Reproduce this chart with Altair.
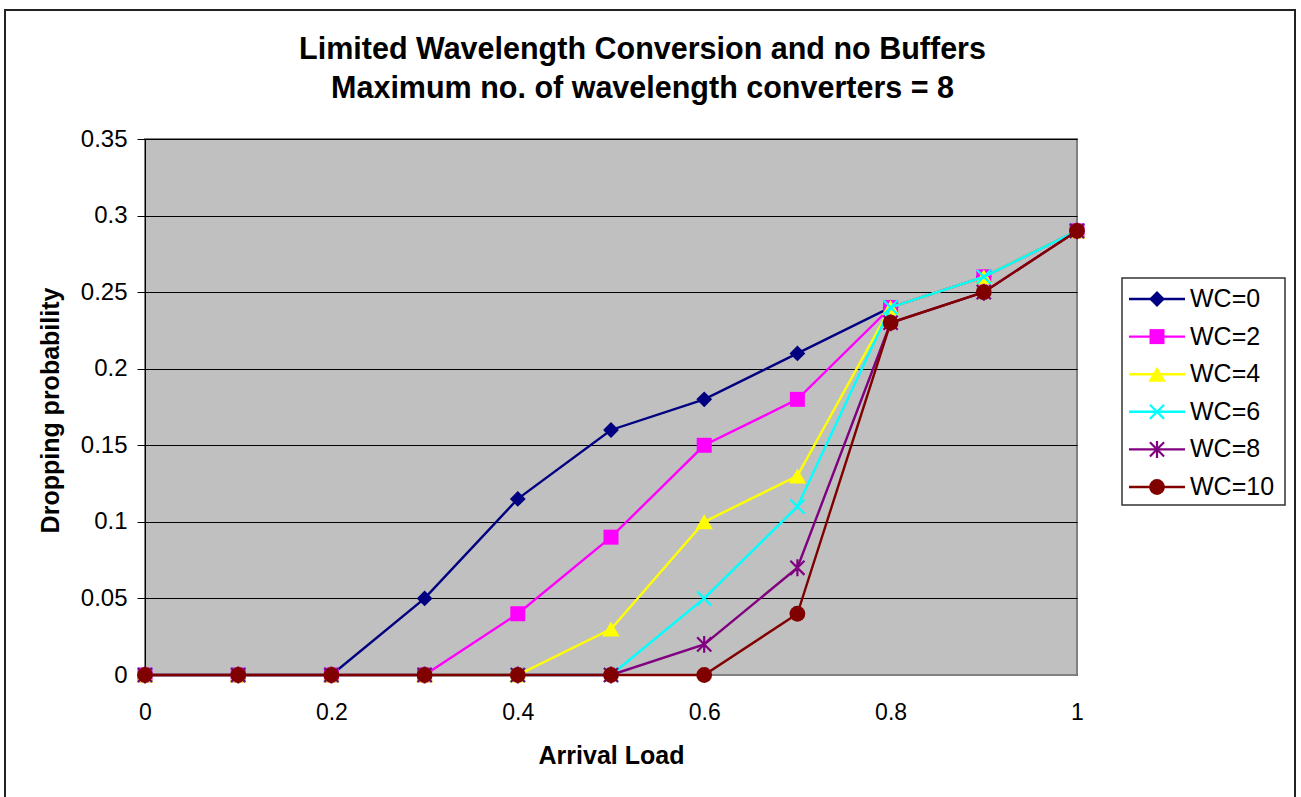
import altair as alt
import pandas as pd

# Arrival load values (x) and dropping probability per wavelength-converter setting
arrival_load = [0.0, 0.1, 0.2, 0.3, 0.4, 0.5, 0.6, 0.7, 0.8, 0.9, 1.0]
series_names = ["WC=0", "WC=2", "WC=4", "WC=6", "WC=8", "WC=10"]
wc0 = [0, 0, 0, 0.05, 0.115, 0.16, 0.18, 0.21, 0.24, 0.26, 0.29]
wc2 = [0, 0, 0, 0, 0.04, 0.09, 0.15, 0.18, 0.24, 0.26, 0.29]
wc4 = [0, 0, 0, 0, 0, 0.03, 0.10, 0.13, 0.24, 0.26, 0.29]
wc6 = [0, 0, 0, 0, 0, 0, 0.05, 0.11, 0.24, 0.26, 0.29]
wc8 = [0, 0, 0, 0, 0, 0, 0.02, 0.07, 0.23, 0.25, 0.29]
wc10 = [0, 0, 0, 0, 0, 0, 0, 0.04, 0.23, 0.25, 0.29]
series_values = [wc0, wc2, wc4, wc6, wc8, wc10]

title_lines = [
    "Limited Wavelength Conversion and no Buffers",
    "Maximum no. of wavelength converters = 8",
]
x_ticks = [0, 0.2, 0.4, 0.6, 0.8, 1]
y_ticks = [0, 0.05, 0.1, 0.15, 0.2, 0.25, 0.3, 0.35]

FONT = "Liberation Sans"
X_SHAPE = "M-1,-1L1,1M-1,1L1,-1"
STAR_SHAPE = "M-1,-1L1,1M-1,1L1,-1M0,-1.2L0,1.2"

# marker style for each series
styles = [
    dict(color="#000080", shape="diamond", size=250, filled=True),
    dict(color="#FF00FF", shape="square", size=225, filled=True),
    dict(color="#FFFF00", shape="triangle-up", size=300, filled=True),
    dict(color="#00FFFF", shape=X_SHAPE, size=200, filled=False),
    dict(color="#800080", shape=STAR_SHAPE, size=200, filled=False),
    dict(color="#800000", shape="circle", size=250, filled=True),
]

rows = []
for name, vals in zip(series_names, series_values):
    for x, y in zip(arrival_load, vals):
        rows.append({"series": name, "load": x, "prob": y})
df = pd.DataFrame(rows)

W, H = 932, 536
PAD_L, PAD_T = 145, 139

x_enc = alt.X(
    "load:Q",
    scale=alt.Scale(domain=[0, 1], nice=False, zero=False),
    axis=alt.Axis(
        values=x_ticks, format="~g", grid=False, ticks=False, tickSize=0,
        labelFontSize=23, labelFont=FONT, labelColor="black", labelFlush=False,
        labelBaseline="alphabetic", labelPadding=44,
        domainColor="#808080", domainWidth=1,
        title="Arrival Load", titleFont=FONT, titleFontSize=25,
        titleFontWeight="bold", titleColor="black",
        titleBaseline="alphabetic", titleY=88,
    ),
)
y_enc = alt.Y(
    "prob:Q",
    scale=alt.Scale(domain=[0, 0.35], nice=False),
    axis=alt.Axis(
        values=y_ticks, format="~g", grid=True, gridColor="black", gridWidth=1,
        tickSize=8, tickColor="black", labelPadding=10,
        labelFontSize=24, labelFont=FONT, labelColor="black",
        domainColor="black", domainWidth=1,
        title="Dropping probability", titleFont=FONT, titleFontSize=25,
        titleFontWeight="bold", titleColor="black",
        titleAngle=270, titleAlign="center", titleBaseline="alphabetic",
        titleX=-87, titleY=271,
    ),
)

base = alt.Chart(df)
layers = []

# outer chart frame and legend box
frame = alt.Chart(pd.DataFrame({"k": [0]})).mark_rect(
    fill="white", fillOpacity=0, stroke="#222222", strokeWidth=2
).encode(
    x=alt.value(5 - PAD_L), x2=alt.value(1295 - PAD_L),
    y=alt.value(10 - PAD_T), y2=alt.value(820 - PAD_T),
)
legend_box = alt.Chart(pd.DataFrame({"k": [0]})).mark_rect(
    fill="white", stroke="#333333", strokeWidth=1.5
).encode(
    x=alt.value(1122 - PAD_L), x2=alt.value(1285 - PAD_L),
    y=alt.value(278 - PAD_T), y2=alt.value(505 - PAD_T),
)
layers += [frame, legend_box]


def marker_props(st):
    kw = dict(shape=st["shape"], size=st["size"], opacity=1)
    if st["filled"]:
        kw.update(filled=True, fill=st["color"], strokeWidth=0)
    else:
        kw.update(filled=False, stroke=st["color"], strokeWidth=2.2)
    return kw


# series lines and markers, drawn series by series
for name, st in zip(series_names, styles):
    sub = base.transform_filter(alt.datum.series == name)
    line = sub.mark_line(color=st["color"], strokeWidth=2.4).encode(x=x_enc, y=y_enc)
    pts = sub.mark_point(**marker_props(st)).encode(x=x_enc, y=y_enc)
    layers += [line, pts]

# legend entries
for i, (name, st) in enumerate(zip(series_names, styles)):
    ly = 299 - PAD_T + i * 37.6
    ld = alt.Chart(pd.DataFrame({"series": [name]}))
    rule = ld.mark_rule(color=st["color"], strokeWidth=2.4).encode(
        x=alt.value(1129 - PAD_L), x2=alt.value(1185 - PAD_L), y=alt.value(ly)
    )
    sym = ld.mark_point(**marker_props(st)).encode(x=alt.value(1157 - PAD_L), y=alt.value(ly))
    txt = ld.mark_text(
        font=FONT, fontSize=25, align="left", baseline="middle", color="black"
    ).encode(x=alt.value(1190 - PAD_L), y=alt.value(ly), text="series:N")
    layers += [rule, sym, txt]

# two-line chart title
for j, line_text in enumerate(title_lines):
    t = alt.Chart(pd.DataFrame({"t": [line_text]})).mark_text(
        font=FONT, fontSize=30.5, fontWeight="bold", align="center",
        baseline="alphabetic", color="black"
    ).encode(x=alt.value(642.5 - PAD_L), y=alt.value(59 - PAD_T + j * 39), text="t:N")
    layers.append(t)

chart = alt.layer(*layers).properties(
    width=W, height=H,
    autosize=alt.AutoSizeParams(type="none"),
    padding={"left": PAD_L, "top": PAD_T, "right": 1301 - PAD_L - W, "bottom": 797 - PAD_T - H},
    background="white",
).configure_view(
    fill="#C0C0C0", stroke="#808080", strokeWidth=2
)

chart.save("out.html", embed_options={"renderer": "svg", "actions": False})
